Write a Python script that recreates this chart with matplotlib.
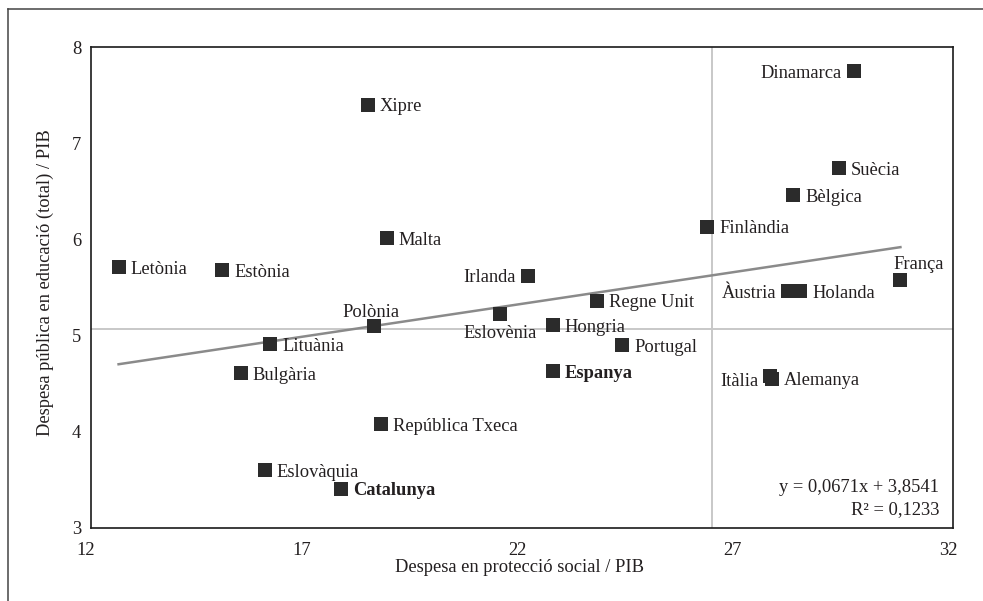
import matplotlib
matplotlib.use("Agg")
import matplotlib.pyplot as plt
from matplotlib.lines import Line2D
from matplotlib.transforms import ScaledTranslation

plt.rcParams['font.family'] = ['Liberation Serif', 'DejaVu Serif']

# Dades: despesa en protecció social / PIB (x) i despesa pública en educació / PIB (y)
paisos = ['Letònia', 'Estònia', 'Xipre', 'Malta', 'Polònia', 'Lituània', 'Bulgària',
          'República Txeca', 'Eslovàquia', 'Catalunya', 'Dinamarca', 'Suècia', 'Bèlgica',
          'Finlàndia', 'França', 'Àustria', 'Holanda', 'Irlanda', 'Regne Unit', 'Eslovènia',
          'Hongria', 'Portugal', 'Espanya', 'Itàlia', 'Alemanya']
prot_social = [12.64, 15.05, 18.42, 18.86, 18.56, 16.16, 15.47,
               18.72, 16.03, 17.81, 29.71, 29.36, 28.29,
               26.30, 30.78, 28.18, 28.46, 22.13, 23.73, 21.48,
               22.71, 24.33, 22.71, 27.76, 27.79]
educacio = [5.71, 5.68, 7.40, 6.01, 5.10, 4.91, 4.61,
            4.08, 3.60, 3.41, 7.75, 6.74, 6.46,
            6.13, 5.58, 5.46, 5.46, 5.62, 5.36, 5.22,
            5.11, 4.90, 4.63, 4.58, 4.55]
destacats = ['Catalunya', 'Espanya']

# recta de regressió i línies de referència
pendent = 0.0671
ordenada = 3.8541
r2 = 0.1233
ref_x = 26.4
ref_y = 5.07

x_ticks = [12, 17, 22, 27, 32]
y_ticks = [3, 4, 5, 6, 7, 8]

# posició de les etiquetes (offset en píxels, alineació horitzontal)
etiquetes = {
    'Polònia': (-3, 15, 'center'),
    'Eslovènia': (0, -17, 'center'),
    'Dinamarca': (-13, 0, 'right'),
    'Àustria': (-12, 0, 'right'),
    'Irlanda': (-12, 0, 'right'),
    'Itàlia': (-12, -3, 'right'),
    'França': (-7, 17, 'left'),
}

text_color = '#231f20'
fs = 13.3


def coma(v):
    return f'{v:.4f}'.replace('.', ',')


fig = plt.figure(figsize=(9.83, 6.01), dpi=100)
ax = fig.add_axes([91 / 983, 73 / 601, 862 / 983, 481 / 601])

ax.axvline(ref_x, color='#c8c8c8', lw=1.4, zorder=1)
ax.axhline(ref_y, color='#c8c8c8', lw=1.4, zorder=1)

xmin, xmax = min(prot_social), max(prot_social)
ax.plot([xmin, xmax], [pendent * xmin + ordenada, pendent * xmax + ordenada],
        color='#8a8a8a', lw=1.8, zorder=2)

ax.scatter(prot_social, educacio, marker='s', s=88, color='#2b2b2b',
           linewidths=0, zorder=3)

for nom, x, y in zip(paisos, prot_social, educacio):
    dx, dy, ha = etiquetes.get(nom, (12, 0, 'left'))
    ax.annotate(nom, (x, y), xytext=(dx, dy), textcoords='offset pixels',
                ha=ha, va='center_baseline', fontsize=fs, color=text_color,
                fontweight='bold' if nom in destacats else 'normal', zorder=4)

ax.text(0.984, 0.085, f'y = {coma(pendent)}x + {coma(ordenada)}',
        transform=ax.transAxes, ha='right', va='center', fontsize=fs, color=text_color)
ax.text(0.984, 0.038, f'R² = {coma(r2)}',
        transform=ax.transAxes, ha='right', va='center', fontsize=fs, color=text_color)

ax.set_xlim(12, 32)
ax.set_ylim(3, 8)
ax.set_xticks(x_ticks)
ax.set_yticks(y_ticks)
ax.tick_params(length=0, labelsize=fs, labelcolor=text_color)
ax.tick_params(axis='x', pad=10)
ax.tick_params(axis='y', pad=7)
for lab in ax.get_xticklabels():
    lab.set_transform(lab.get_transform() + ScaledTranslation(-5 / 100, 0, fig.dpi_scale_trans))

for sp in ax.spines.values():
    sp.set_color('#1a1a1a')
    sp.set_linewidth(1.2)

ax.set_xlabel('Despesa en protecció social / PIB', fontsize=fs, color=text_color)
ax.xaxis.set_label_coords(0.497, -0.064)
ax.xaxis.label.set_va('top')
ax.set_ylabel('Despesa pública en educació (total) / PIB', fontsize=fs, color=text_color)
ax.yaxis.set_label_coords(-0.043, 0.51)

# marc exterior (només costat esquerre i superior visibles)
fig.add_artist(Line2D([8 / 983, 8 / 983], [0, 1 - 9 / 601], transform=fig.transFigure,
                      color='#444444', lw=1.1))
fig.add_artist(Line2D([8 / 983, 1], [1 - 9 / 601, 1 - 9 / 601], transform=fig.transFigure,
                      color='#444444', lw=1.1))

fig.savefig('out.png', dpi=100)
